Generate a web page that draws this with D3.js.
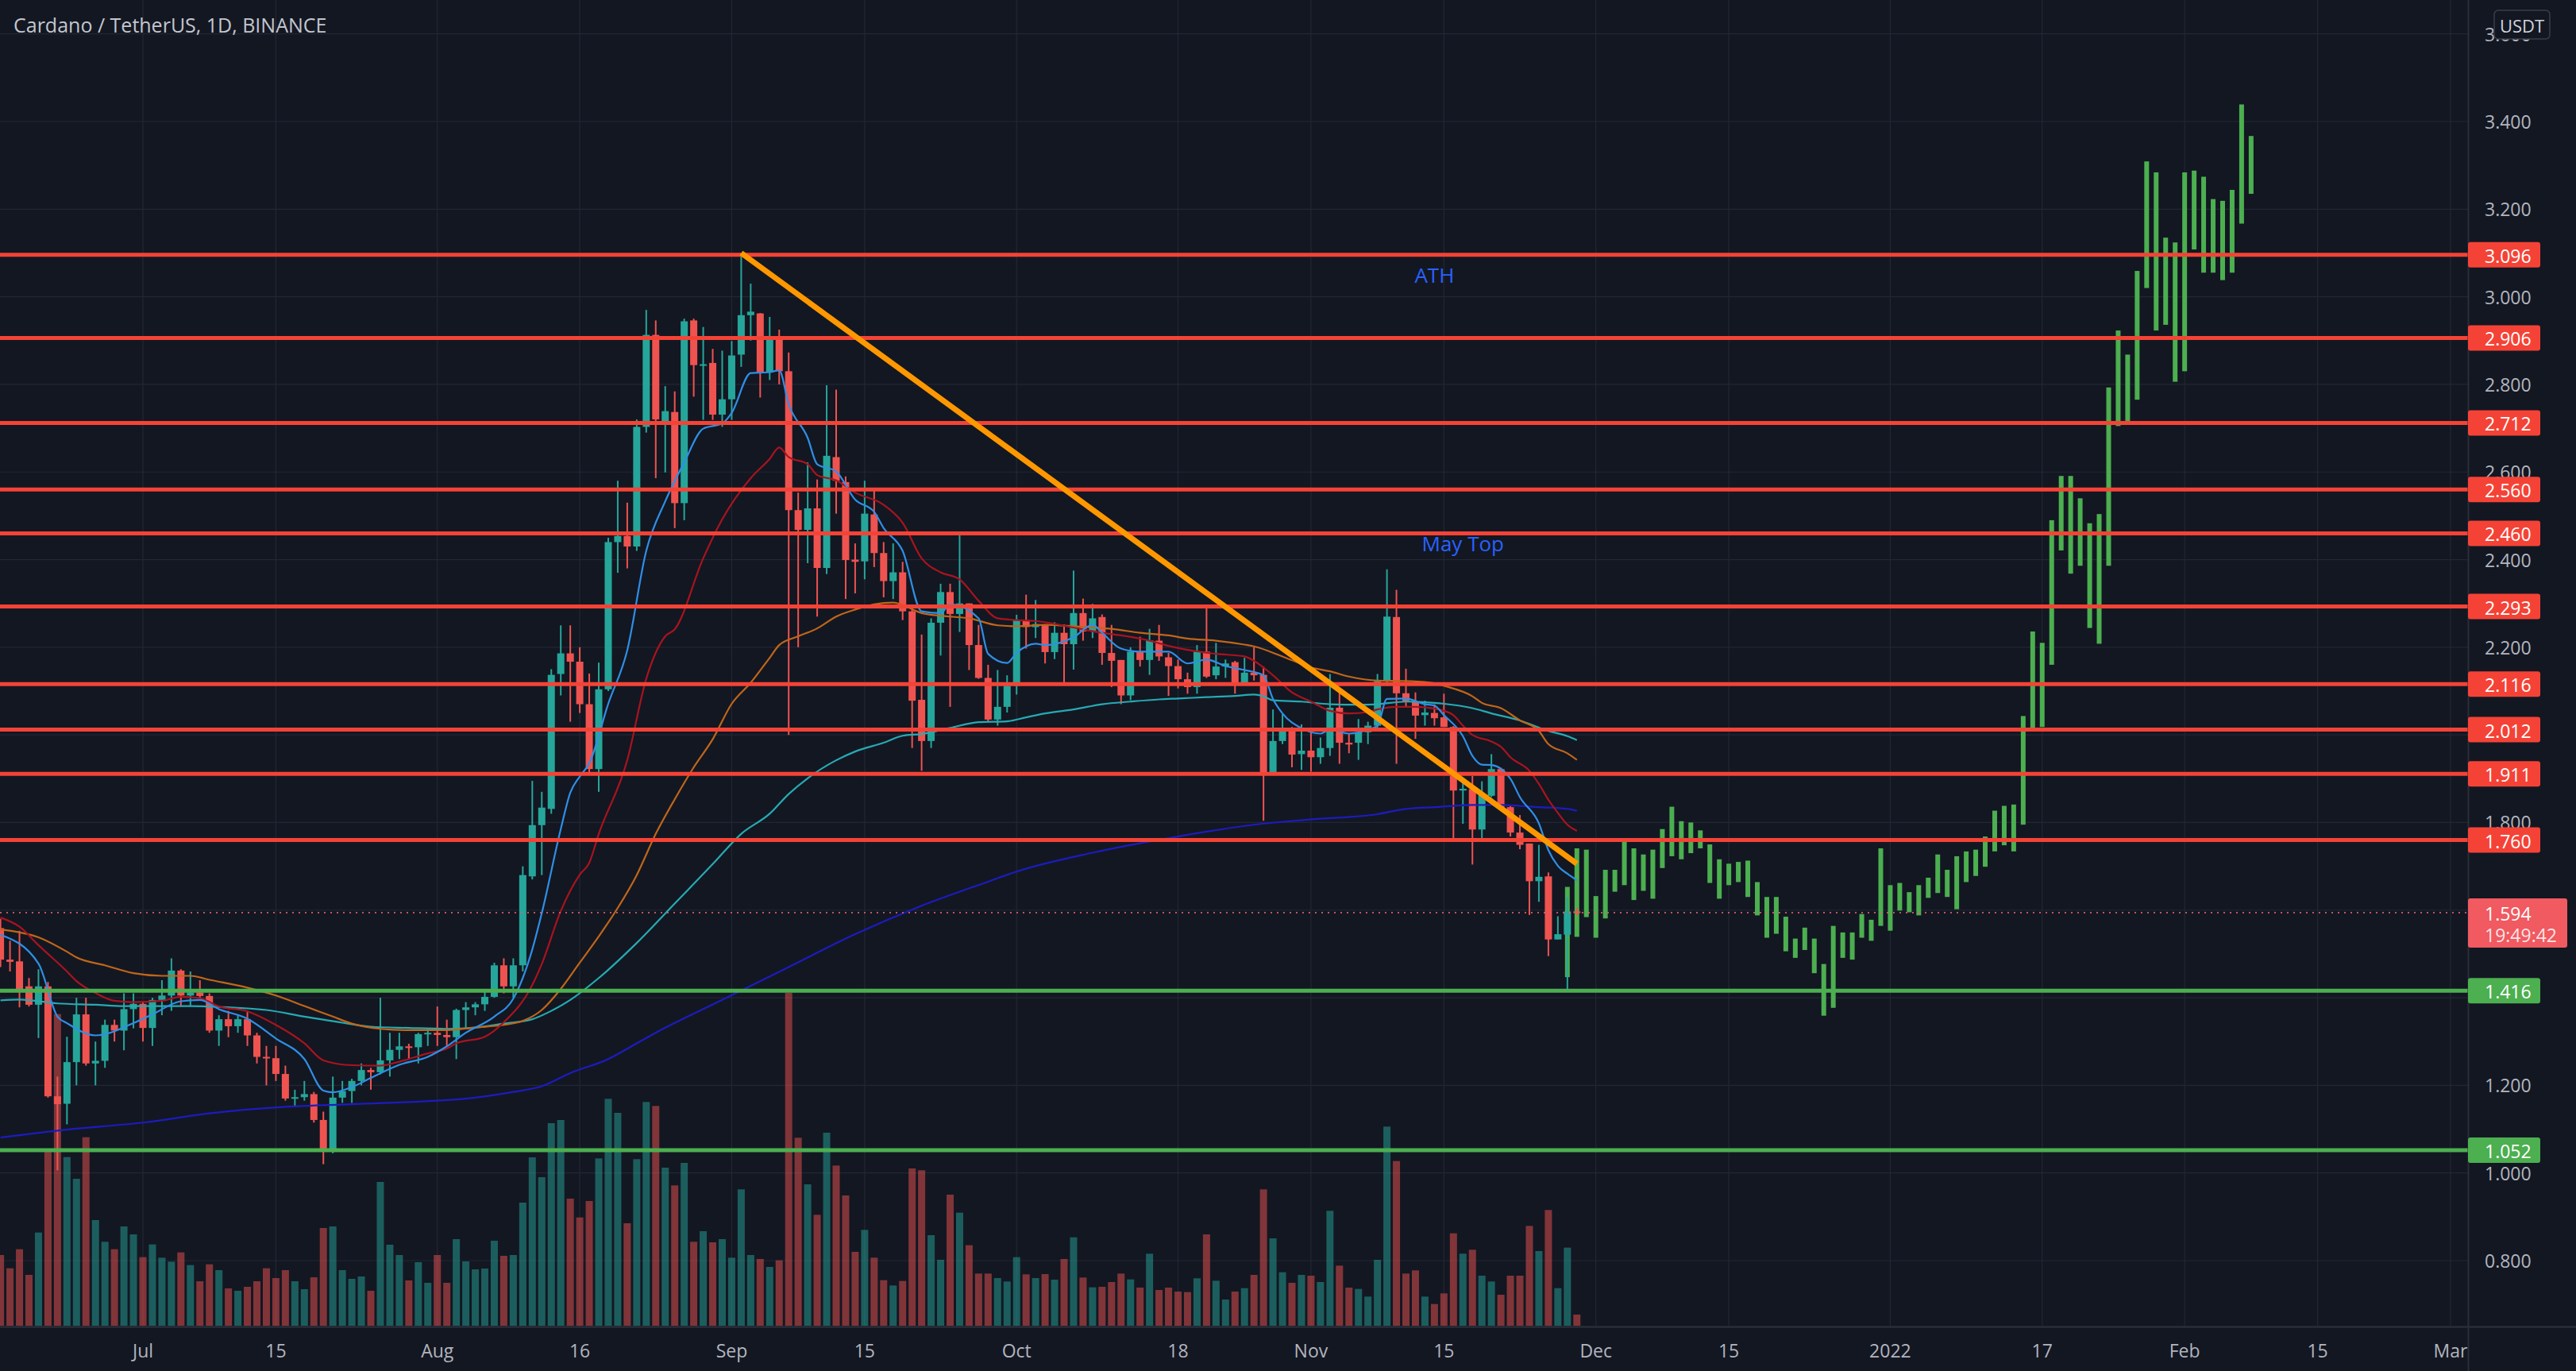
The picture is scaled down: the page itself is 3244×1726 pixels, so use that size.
<!DOCTYPE html>
<html><head><meta charset="utf-8">
<script src="https://cdn.jsdelivr.net/npm/d3@7"></script>
<style>
html,body{margin:0;padding:0;background:#131722;}
svg{display:block;}
text{font-family:"Open Sans","Noto Sans",sans-serif;}
</style></head>
<body>
<svg id="chart" width="3244" height="1726"></svg>
<script>
// ---------------- DATA ----------------
const chartTitle = "Cardano / TetherUS, 1D, BINANCE";
const quoteUnit = "USDT";

const candleDates = [
"2021-06-16","2021-06-17","2021-06-18","2021-06-19","2021-06-20","2021-06-21","2021-06-22","2021-06-23","2021-06-24","2021-06-25","2021-06-26","2021-06-27","2021-06-28","2021-06-29","2021-06-30",
"2021-07-01","2021-07-02","2021-07-03","2021-07-04","2021-07-05","2021-07-06","2021-07-07","2021-07-08","2021-07-09","2021-07-10","2021-07-11","2021-07-12","2021-07-13","2021-07-14","2021-07-15","2021-07-16","2021-07-17","2021-07-18","2021-07-19","2021-07-20","2021-07-21","2021-07-22","2021-07-23","2021-07-24","2021-07-25","2021-07-26","2021-07-27","2021-07-28","2021-07-29","2021-07-30","2021-07-31",
"2021-08-01","2021-08-02","2021-08-03","2021-08-04","2021-08-05","2021-08-06","2021-08-07","2021-08-08","2021-08-09","2021-08-10","2021-08-11","2021-08-12","2021-08-13","2021-08-14","2021-08-15","2021-08-16","2021-08-17","2021-08-18","2021-08-19","2021-08-20","2021-08-21","2021-08-22","2021-08-23","2021-08-24","2021-08-25","2021-08-26","2021-08-27","2021-08-28","2021-08-29","2021-08-30","2021-08-31",
"2021-09-01","2021-09-02","2021-09-03","2021-09-04","2021-09-05","2021-09-06","2021-09-07","2021-09-08","2021-09-09","2021-09-10","2021-09-11","2021-09-12","2021-09-13","2021-09-14","2021-09-15","2021-09-16","2021-09-17","2021-09-18","2021-09-19","2021-09-20","2021-09-21","2021-09-22","2021-09-23","2021-09-24","2021-09-25","2021-09-26","2021-09-27","2021-09-28","2021-09-29","2021-09-30",
"2021-10-01","2021-10-02","2021-10-03","2021-10-04","2021-10-05","2021-10-06","2021-10-07","2021-10-08","2021-10-09","2021-10-10","2021-10-11","2021-10-12","2021-10-13","2021-10-14","2021-10-15","2021-10-16","2021-10-17","2021-10-18","2021-10-19","2021-10-20","2021-10-21","2021-10-22","2021-10-23","2021-10-24","2021-10-25","2021-10-26","2021-10-27","2021-10-28","2021-10-29","2021-10-30","2021-10-31",
"2021-11-01","2021-11-02","2021-11-03","2021-11-04","2021-11-05","2021-11-06","2021-11-07","2021-11-08","2021-11-09","2021-11-10","2021-11-11","2021-11-12","2021-11-13","2021-11-14","2021-11-15","2021-11-16","2021-11-17","2021-11-18","2021-11-19","2021-11-20","2021-11-21","2021-11-22","2021-11-23","2021-11-24","2021-11-25","2021-11-26","2021-11-27","2021-11-28","2021-11-29"];

const openP = [
1.559,1.487,1.483,1.426,1.384,1.426,1.175,1.158,1.253,1.362,1.25,1.256,1.338,1.325,1.374,
1.386,1.331,1.395,1.405,1.462,1.405,1.412,1.404,1.325,1.351,1.335,1.351,1.314,1.265,1.262,1.226,1.170,1.173,1.180,1.121,1.054,1.172,1.187,1.21,1.235,1.23,1.257,1.281,1.289,1.287,1.317,
1.32,1.315,1.31,1.372,1.378,1.385,1.402,1.474,1.426,1.474,1.677,1.794,1.831,2.139,2.186,2.167,2.07,1.922,2.104,2.44,2.454,2.43,2.703,2.913,2.716,2.737,2.529,2.946,2.844,2.849,2.731,
2.766,2.868,2.958,2.962,2.828,2.909,2.83,2.513,2.468,2.517,2.381,2.634,2.577,2.40,2.396,2.503,2.415,2.351,2.371,2.282,2.08,1.986,2.256,2.326,2.276,2.30,2.205,2.13,2.035,2.064,
2.112,2.262,2.246,2.251,2.189,2.233,2.207,2.278,2.236,2.269,2.187,2.171,2.09,2.19,2.171,2.215,2.177,2.157,2.127,2.109,2.19,2.136,2.156,2.166,2.119,2.142,2.137,1.914,1.986,2.01,1.956,
1.964,1.949,1.97,2.062,1.982,1.982,2.006,2.021,2.123,2.269,2.095,2.076,2.045,2.05,2.04,2.018,1.873,1.876,1.784,1.861,1.922,1.835,1.777,1.752,1.666,1.677,1.533,1.544,1.597];

const highP = [
1.58,1.53,1.553,1.445,1.465,1.436,1.22,1.311,1.40,1.40,1.30,1.35,1.35,1.41,1.41,
1.39,1.40,1.44,1.49,1.465,1.46,1.44,1.41,1.36,1.37,1.36,1.37,1.32,1.29,1.29,1.245,1.19,1.21,1.185,1.14,1.22,1.21,1.215,1.25,1.24,1.40,1.32,1.32,1.295,1.32,1.33,
1.38,1.35,1.375,1.39,1.39,1.42,1.48,1.49,1.49,1.70,1.895,1.87,2.15,2.25,2.25,2.20,2.14,2.165,2.45,2.58,2.53,2.72,2.97,2.946,2.796,2.784,2.95,2.95,2.931,2.881,2.877,
2.899,3.10,3.03,2.963,2.954,2.925,2.873,2.553,2.622,2.583,2.798,2.788,2.59,2.437,2.58,2.557,2.44,2.437,2.395,2.29,2.229,2.266,2.345,2.345,2.456,2.30,2.251,2.16,2.148,2.136,
2.274,2.32,2.308,2.251,2.257,2.252,2.375,2.311,2.299,2.275,2.251,2.171,2.20,2.224,2.242,2.251,2.187,2.172,2.142,2.205,2.293,2.21,2.172,2.169,2.176,2.20,2.156,2.058,2.047,2.018,2.024,
2.008,1.994,2.139,2.103,2.003,2.036,2.03,2.139,2.378,2.331,2.151,2.097,2.078,2.07,2.094,2.02,1.895,1.906,1.894,1.956,1.925,1.84,1.817,1.752,1.749,1.686,1.586,1.63,1.605];

const lowP = [
1.47,1.46,1.378,1.38,1.308,1.172,1.006,1.111,1.20,1.245,1.20,1.24,1.30,1.28,1.33,
1.30,1.29,1.36,1.37,1.38,1.38,1.40,1.32,1.29,1.31,1.32,1.29,1.25,1.20,1.21,1.165,1.15,1.165,1.115,1.02,1.045,1.16,1.16,1.20,1.19,1.225,1.22,1.26,1.26,1.25,1.29,
1.29,1.29,1.26,1.33,1.36,1.37,1.40,1.41,1.40,1.46,1.67,1.68,1.82,2.09,2.03,2.05,1.915,1.87,2.10,2.37,2.38,2.42,2.69,2.586,2.599,2.472,2.49,2.772,2.719,2.719,2.703,
2.719,2.84,2.90,2.77,2.81,2.80,2.00,2.20,2.392,2.27,2.367,2.505,2.31,2.323,2.355,2.383,2.314,2.31,2.262,1.97,1.918,1.97,2.181,2.064,2.235,2.148,2.128,2.03,2.021,2.051,
2.092,2.197,2.221,2.163,2.173,2.118,2.149,2.215,2.221,2.16,2.109,2.07,2.079,2.156,2.137,2.169,2.089,2.106,2.094,2.094,2.13,2.127,2.13,2.094,2.118,2.124,1.804,1.913,1.979,1.926,1.92,
1.916,1.934,1.952,1.934,1.958,1.943,1.979,2.009,2.112,1.934,2.062,1.991,2.021,2.021,2.018,1.764,1.797,1.704,1.764,1.858,1.83,1.768,1.739,1.589,1.619,1.495,1.533,1.416,1.588];

const closeP = [
1.487,1.482,1.416,1.384,1.426,1.175,1.157,1.253,1.362,1.25,1.256,1.338,1.325,1.374,1.386,
1.331,1.395,1.405,1.462,1.405,1.412,1.404,1.325,1.351,1.335,1.351,1.314,1.265,1.262,1.226,1.170,1.173,1.180,1.121,1.054,1.172,1.187,1.21,1.235,1.23,1.257,1.281,1.289,1.287,1.317,1.32,
1.315,1.31,1.372,1.378,1.385,1.402,1.474,1.426,1.474,1.68,1.794,1.834,2.137,2.186,2.167,2.07,1.922,2.104,2.44,2.454,2.43,2.703,2.913,2.72,2.739,2.529,2.944,2.844,2.846,2.731,2.766,
2.866,2.958,2.966,2.828,2.909,2.83,2.513,2.468,2.517,2.381,2.637,2.58,2.399,2.395,2.505,2.415,2.351,2.371,2.282,2.078,1.986,2.256,2.326,2.276,2.30,2.205,2.13,2.035,2.064,2.112,
2.262,2.246,2.253,2.189,2.233,2.207,2.278,2.236,2.266,2.187,2.169,2.09,2.19,2.171,2.216,2.179,2.157,2.127,2.109,2.19,2.133,2.156,2.163,2.119,2.142,2.136,1.909,1.986,2.01,1.955,1.964,
1.949,1.97,2.062,1.982,1.978,2.006,2.021,2.123,2.27,2.095,2.076,2.044,2.051,2.038,2.018,1.873,1.877,1.784,1.864,1.922,1.834,1.777,1.749,1.666,1.676,1.533,1.545,1.597,1.594];

// volume, millions of ADA
const volumeM = [
267,217,289,192,352,659,1177,637,555,712,399,317,289,375,345,
259,307,257,242,277,229,168,232,210,141,132,147,168,217,180,210,168,138,183,369,375,210,177,186,132,543,306,267,171,240,162,
267,162,327,243,213,216,321,264,267,465,636,561,765,777,480,409,471,632,857,804,387,629,845,830,597,530,615,317,357,315,327,
257,515,267,252,222,247,1257,710,534,419,729,605,492,279,362,257,172,152,169,594,587,342,249,495,427,304,197,197,180,167,
259,194,180,195,174,252,334,182,145,147,165,197,175,144,272,135,144,129,127,179,345,170,99,129,142,192,515,330,202,162,192,
189,165,434,227,144,139,110,249,752,622,197,209,110,82,122,349,272,287,189,167,117,189,189,377,282,437,142,295,42];

// projected path (bars pattern), high / low per day
const projDates = [
"2021-11-28","2021-11-29","2021-11-30",
"2021-12-01","2021-12-02","2021-12-03","2021-12-04","2021-12-05","2021-12-06","2021-12-07","2021-12-08","2021-12-09","2021-12-10","2021-12-11","2021-12-12","2021-12-13","2021-12-14","2021-12-15","2021-12-16","2021-12-17","2021-12-18","2021-12-19","2021-12-20","2021-12-21","2021-12-22","2021-12-23","2021-12-24","2021-12-25","2021-12-26","2021-12-27","2021-12-28","2021-12-29","2021-12-30","2021-12-31",
"2022-01-01","2022-01-02","2022-01-03","2022-01-04","2022-01-05","2022-01-06","2022-01-07","2022-01-08","2022-01-09","2022-01-10","2022-01-11","2022-01-12","2022-01-13","2022-01-14","2022-01-15","2022-01-16","2022-01-17","2022-01-18","2022-01-19","2022-01-20","2022-01-21","2022-01-22","2022-01-23","2022-01-24","2022-01-25","2022-01-26","2022-01-27","2022-01-28","2022-01-29","2022-01-30","2022-01-31",
"2022-02-01","2022-02-02","2022-02-03","2022-02-04","2022-02-05","2022-02-06","2022-02-07","2022-02-08"];
const projHigh = [
1.653,1.741,1.738,
1.632,1.692,1.692,1.762,1.741,1.727,1.738,1.785,1.836,1.803,1.800,1.782,1.750,1.716,1.706,1.710,1.713,1.664,1.630,1.630,1.585,1.535,1.560,1.535,1.477,1.564,1.549,1.549,1.591,1.578,1.741,
1.657,1.662,1.641,1.657,1.674,1.727,1.692,1.723,1.734,1.738,1.768,1.827,1.838,1.841,2.043,2.236,2.210,2.490,2.591,2.591,2.540,2.483,2.504,2.793,2.923,2.868,3.059,3.309,3.284,3.135,3.124,
3.284,3.288,3.274,3.223,3.219,3.244,3.439,3.367];
const projLow = [
1.447,1.539,1.584,
1.537,1.581,1.642,1.657,1.623,1.644,1.626,1.696,1.723,1.716,1.730,1.741,1.662,1.626,1.657,1.664,1.630,1.588,1.537,1.546,1.506,1.491,1.509,1.456,1.359,1.377,1.491,1.487,1.537,1.530,1.564,
1.553,1.599,1.595,1.588,1.628,1.639,1.630,1.602,1.664,1.678,1.699,1.734,1.748,1.734,1.795,2.011,2.018,2.160,2.421,2.368,2.386,2.244,2.208,2.386,2.705,2.712,2.765,3.020,2.923,2.936,2.806,
2.830,3.108,3.055,3.055,3.038,3.055,3.167,3.235];

// moving averages: [date, value]
const maFast = [["2021-06-16",1.544],["2021-06-20",1.478],["2021-06-22",1.357],["2021-06-23",1.342],["2021-06-26",1.314],["2021-06-30",1.342],["2021-07-02",1.362],["2021-07-05",1.392],["2021-07-07",1.395],["2021-07-09",1.374],["2021-07-12",1.352],["2021-07-15",1.307],["2021-07-18",1.260],["2021-07-20",1.188],["2021-07-21",1.184],["2021-07-23",1.196],["2021-07-25",1.217],["2021-07-28",1.247],["2021-07-31",1.265],["2021-08-02",1.289],["2021-08-04",1.320],["2021-08-07",1.357],["2021-08-09",1.398],["2021-08-11",1.510],["2021-08-12",1.593],["2021-08-14",1.785],["2021-08-15",1.868],["2021-08-16",1.905],["2021-08-17",1.935],["2021-08-19",2.071],["2021-08-21",2.193],["2021-08-23",2.420],["2021-08-25",2.533],["2021-08-27",2.622],["2021-08-29",2.699],["2021-08-31",2.711],["2021-09-01",2.735],["2021-09-03",2.826],["2021-09-05",2.828],["2021-09-06",2.832],["2021-09-07",2.755],["2021-09-09",2.678],["2021-09-10",2.618],["2021-09-12",2.601],["2021-09-14",2.537],["2021-09-16",2.509],["2021-09-17",2.472],["2021-09-19",2.420],["2021-09-21",2.282],["2021-09-23",2.278],["2021-09-24",2.298],["2021-09-27",2.266],["2021-09-28",2.185],["2021-09-30",2.164],["2021-10-01",2.187],["2021-10-03",2.208],["2021-10-04",2.205],["2021-10-07",2.223],["2021-10-09",2.251],["2021-10-10",2.233],["2021-10-12",2.197],["2021-10-14",2.190],["2021-10-17",2.190],["2021-10-19",2.163],["2021-10-21",2.172],["2021-10-23",2.157],["2021-10-25",2.148],["2021-10-27",2.136],["2021-10-28",2.082],["2021-10-29",2.049],["2021-10-31",2.015],["2021-11-02",2.003],["2021-11-03",2.012],["2021-11-05",2.003],["2021-11-07",2.012],["2021-11-08",2.021],["2021-11-09",2.082],["2021-11-11",2.083],["2021-11-13",2.070],["2021-11-14",2.067],["2021-11-15",2.045],["2021-11-17",1.997],["2021-11-18",1.952],["2021-11-19",1.932],["2021-11-20",1.931],["2021-11-22",1.900],["2021-11-23",1.858],["2021-11-25",1.798],["2021-11-26",1.737],["2021-11-27",1.701],["2021-11-28",1.683],["2021-11-29",1.668]];

const maMid = [["2021-06-16",1.583],["2021-06-18",1.562],["2021-06-20",1.520],["2021-06-23",1.460],["2021-06-24",1.438],["2021-06-26",1.411],["2021-06-28",1.393],["2021-06-30",1.390],["2021-07-03",1.393],["2021-07-05",1.402],["2021-07-07",1.399],["2021-07-09",1.380],["2021-07-12",1.369],["2021-07-15",1.338],["2021-07-18",1.296],["2021-07-20",1.257],["2021-07-23",1.246],["2021-07-26",1.245],["2021-07-28",1.254],["2021-07-31",1.273],["2021-08-02",1.284],["2021-08-03",1.296],["2021-08-06",1.311],["2021-08-08",1.344],["2021-08-11",1.429],["2021-08-12",1.477],["2021-08-14",1.598],["2021-08-16",1.681],["2021-08-17",1.708],["2021-08-18",1.774],["2021-08-21",1.942],["2021-08-23",2.128],["2021-08-25",2.225],["2021-08-26",2.241],["2021-08-29",2.403],["2021-08-31",2.492],["2021-09-03",2.586],["2021-09-05",2.630],["2021-09-06",2.656],["2021-09-07",2.634],["2021-09-09",2.618],["2021-09-10",2.593],["2021-09-12",2.581],["2021-09-14",2.553],["2021-09-17",2.525],["2021-09-19",2.484],["2021-09-21",2.403],["2021-09-23",2.371],["2021-09-25",2.355],["2021-09-27",2.306],["2021-09-29",2.266],["2021-10-01",2.262],["2021-10-03",2.260],["2021-10-04",2.257],["2021-10-07",2.245],["2021-10-10",2.233],["2021-10-12",2.227],["2021-10-15",2.215],["2021-10-17",2.203],["2021-10-19",2.194],["2021-10-22",2.185],["2021-10-25",2.179],["2021-10-26",2.169],["2021-10-28",2.136],["2021-10-30",2.097],["2021-11-01",2.076],["2021-11-03",2.055],["2021-11-05",2.049],["2021-11-07",2.052],["2021-11-08",2.058],["2021-11-10",2.064],["2021-11-12",2.064],["2021-11-14",2.060],["2021-11-15",2.055],["2021-11-16",2.045],["2021-11-17",2.021],["2021-11-18",2.000],["2021-11-20",1.985],["2021-11-21",1.973],["2021-11-22",1.949],["2021-11-24",1.918],["2021-11-25",1.888],["2021-11-26",1.852],["2021-11-27",1.822],["2021-11-28",1.795],["2021-11-29",1.781]];

const ma50 = [["2021-06-16",1.556],["2021-06-20",1.538],["2021-06-23",1.505],["2021-06-24",1.492],["2021-06-27",1.474],["2021-06-30",1.456],["2021-07-03",1.450],["2021-07-06",1.450],["2021-07-08",1.441],["2021-07-12",1.423],["2021-07-15",1.405],["2021-07-18",1.381],["2021-07-21",1.357],["2021-07-23",1.341],["2021-07-26",1.329],["2021-07-29",1.326],["2021-08-02",1.326],["2021-08-05",1.332],["2021-08-08",1.338],["2021-08-10",1.347],["2021-08-12",1.372],["2021-08-14",1.420],["2021-08-16",1.480],["2021-08-18",1.540],["2021-08-20",1.605],["2021-08-22",1.680],["2021-08-24",1.774],["2021-08-26",1.853],["2021-08-28",1.926],["2021-08-30",1.990],["2021-09-01",2.071],["2021-09-03",2.119],["2021-09-05",2.176],["2021-09-06",2.205],["2021-09-08",2.225],["2021-09-10",2.243],["2021-09-12",2.270],["2021-09-14",2.286],["2021-09-16",2.298],["2021-09-18",2.302],["2021-09-21",2.278],["2021-09-24",2.270],["2021-09-26",2.266],["2021-09-29",2.250],["2021-10-01",2.248],["2021-10-04",2.251],["2021-10-07",2.248],["2021-10-11",2.242],["2021-10-14",2.233],["2021-10-17",2.227],["2021-10-19",2.220],["2021-10-22",2.215],["2021-10-25",2.206],["2021-10-26",2.202],["2021-10-29",2.179],["2021-11-01",2.154],["2021-11-03",2.145],["2021-11-05",2.133],["2021-11-08",2.124],["2021-11-11",2.123],["2021-11-14",2.118],["2021-11-15",2.112],["2021-11-18",2.088],["2021-11-19",2.073],["2021-11-21",2.061],["2021-11-23",2.033],["2021-11-25",2.009],["2021-11-26",1.979],["2021-11-28",1.958],["2021-11-29",1.943]];

const ma100 = [["2021-06-16",1.394],["2021-06-18",1.396],["2021-06-22",1.387],["2021-06-26",1.384],["2021-06-29",1.381],["2021-07-03",1.381],["2021-07-06",1.381],["2021-07-10",1.378],["2021-07-14",1.372],["2021-07-18",1.357],["2021-07-22",1.343],["2021-07-25",1.334],["2021-07-29",1.331],["2021-08-02",1.329],["2021-08-05",1.332],["2021-08-08",1.341],["2021-08-11",1.351],["2021-08-13",1.370],["2021-08-15",1.395],["2021-08-18",1.445],["2021-08-22",1.525],["2021-08-26",1.615],["2021-08-30",1.705],["2021-09-02",1.774],["2021-09-05",1.820],["2021-09-07",1.865],["2021-09-09",1.901],["2021-09-12",1.942],["2021-09-14",1.962],["2021-09-17",1.982],["2021-09-19",1.998],["2021-09-21",2.002],["2021-09-24",2.016],["2021-09-27",2.029],["2021-09-30",2.031],["2021-10-02",2.040],["2021-10-04",2.049],["2021-10-07",2.058],["2021-10-10",2.070],["2021-10-13",2.076],["2021-10-16",2.081],["2021-10-18",2.083],["2021-10-21",2.086],["2021-10-24",2.089],["2021-10-26",2.092],["2021-10-27",2.088],["2021-10-28",2.079],["2021-10-31",2.076],["2021-11-03",2.070],["2021-11-06",2.069],["2021-11-08",2.070],["2021-11-11",2.076],["2021-11-14",2.073],["2021-11-15",2.071],["2021-11-18",2.061],["2021-11-20",2.049],["2021-11-23",2.033],["2021-11-26",2.009],["2021-11-28",1.997],["2021-11-29",1.988]];

const ma200 = [["2021-06-16",1.081],["2021-06-23",1.099],["2021-07-01",1.115],["2021-07-08",1.136],["2021-07-16",1.151],["2021-07-23",1.157],["2021-07-30",1.163],["2021-08-05",1.172],["2021-08-09",1.185],["2021-08-12",1.198],["2021-08-15",1.228],["2021-08-19",1.260],["2021-08-22",1.296],["2021-08-24",1.320],["2021-08-31",1.395],["2021-09-07",1.470],["2021-09-14",1.545],["2021-09-21",1.610],["2021-09-28",1.665],["2021-10-01",1.688],["2021-10-09",1.731],["2021-10-18",1.768],["2021-10-26",1.795],["2021-11-01",1.807],["2021-11-08",1.819],["2021-11-11",1.831],["2021-11-14",1.835],["2021-11-18",1.840],["2021-11-21",1.840],["2021-11-25",1.835],["2021-11-28",1.831],["2021-11-29",1.827]];

const resistanceLevels = [3.096, 2.906, 2.712, 2.560, 2.460, 2.293, 2.116, 2.012, 1.911, 1.760];
const supportLevels = [1.416, 1.052];
const lastPrice = 1.594;
const lastPriceTimer = "19:49:42";

const trendStart = ["2021-09-02", 3.100];
const trendEnd = ["2021-11-29", 1.706];

const noteTexts = ["ATH", "May Top"];
const noteDates = ["2021-11-14", "2021-11-17"];
const notePrices = [3.05, 2.438];

const priceTicks = [0.8, 1.0, 1.2, 1.4, 1.6, 1.8, 2.0, 2.2, 2.4, 2.6, 2.8, 3.0, 3.2, 3.4, 3.6];
const timeTickDates = ["2021-07-01","2021-07-15","2021-08-01","2021-08-16","2021-09-01","2021-09-15","2021-10-01","2021-10-18","2021-11-01","2021-11-15","2021-12-01","2021-12-15","2022-01-01","2022-01-17","2022-02-01","2022-02-15","2022-03-01"];
const timeTickLabels = ["Jul","15","Aug","16","Sep","15","Oct","18","Nov","15","Dec","15","2022","17","Feb","15","Mar"];

// ---------------- STYLE / LAYOUT ----------------
const W = 3244, H = 1726, plotR = 3108, plotB = 1670;
const C = {
  bg:"#131722", grid:"#232734", border:"#2a2e39", axisText:"#b2b5be",
  up:"#26a69a", down:"#ef5350", volUp:"rgba(38,166,154,0.5)", volDown:"rgba(239,83,80,0.5)",
  res:"#f44336", sup:"#4caf50", proj:"#4caf50", trend:"#ff9800", note:"#2962ff",
  maFast:"#2f8fe6", maMid:"#a8141f", ma50:"#c0661a", ma100:"#26aab3", ma200:"#1c1cbf"
};
const parse = d3.utcParse("%Y-%m-%d");

const x = d3.scaleUtc().domain([parse("2021-07-01"), parse("2022-03-01")]).range([180, 3086]);
const y = d3.scaleLinear().domain([0.8, 3.4]).range([1587, 153]);
const vy = d3.scaleLinear().domain([0, 1500]).range([1669, 1169]);

const svg = d3.select("#chart");
svg.append("rect").attr("width", W).attr("height", H).attr("fill", C.bg);
svg.append("defs").append("clipPath").attr("id","plotclip")
  .append("rect").attr("x",0).attr("y",0).attr("width",plotR).attr("height",plotB);

const plot = svg.append("g").attr("clip-path","url(#plotclip)");

// grid
plot.append("g").selectAll("line").data(timeTickDates).join("line")
  .attr("x1", d=>x(parse(d))).attr("x2", d=>x(parse(d)))
  .attr("y1",0).attr("y2",plotB).attr("stroke",C.grid).attr("stroke-width",1.2);
plot.append("g").selectAll("line").data(priceTicks).join("line")
  .attr("x1",0).attr("x2",plotR).attr("y1",d=>y(d)).attr("y2",d=>y(d))
  .attr("stroke",C.grid).attr("stroke-width",1.2);

const candles = candleDates.map((d,i)=>({date:parse(d),o:openP[i],h:highP[i],l:lowP[i],c:closeP[i],v:volumeM[i]}));
const isUp = d => d.c >= d.o;
const bodyW = 9;

// volume
plot.append("g").selectAll("rect").data(candles).join("rect")
  .attr("x", d=>x(d.date)-bodyW/2).attr("width", bodyW)
  .attr("y", d=>vy(d.v)).attr("height", d=>vy(0)-vy(d.v))
  .attr("fill", d=> isUp(d)?C.volUp:C.volDown);

// projected bars pattern
const proj = projDates.map((d,i)=>({date:parse(d),h:projHigh[i],l:projLow[i]}));
plot.append("g").selectAll("rect").data(proj).join("rect")
  .attr("x", d=>x(d.date)-3).attr("width",6)
  .attr("y", d=>y(d.h)).attr("height", d=>y(d.l)-y(d.h))
  .attr("fill", C.proj);

// candles
const cg = plot.append("g");
cg.selectAll("line").data(candles).join("line")
  .attr("x1", d=>x(d.date)).attr("x2", d=>x(d.date))
  .attr("y1", d=>y(d.h)).attr("y2", d=>y(d.l))
  .attr("stroke", d=>isUp(d)?C.up:C.down).attr("stroke-width",2);
cg.selectAll("rect").data(candles).join("rect")
  .attr("x", d=>x(d.date)-bodyW/2).attr("width", bodyW)
  .attr("y", d=>y(Math.max(d.o,d.c)))
  .attr("height", d=>Math.max(2, Math.abs(y(d.o)-y(d.c))))
  .attr("fill", d=>isUp(d)?C.up:C.down);

// moving averages
const maLine = d3.line().x(d=>x(parse(d[0]))).y(d=>y(d[1])).curve(d3.curveMonotoneX);
[[ma200,C.ma200],[ma100,C.ma100],[ma50,C.ma50],[maMid,C.maMid],[maFast,C.maFast]].forEach(([data,col])=>{
  plot.append("path").datum(data).attr("d", maLine).attr("fill","none")
    .attr("stroke", col).attr("stroke-width", 2.2).attr("stroke-linejoin","round");
});

// horizontal levels
plot.append("g").selectAll("line").data(resistanceLevels).join("line")
  .attr("x1",0).attr("x2",plotR).attr("y1",d=>y(d)).attr("y2",d=>y(d))
  .attr("stroke",C.res).attr("stroke-width",5);
plot.append("g").selectAll("line").data(supportLevels).join("line")
  .attr("x1",0).attr("x2",plotR).attr("y1",d=>y(d)).attr("y2",d=>y(d))
  .attr("stroke",C.sup).attr("stroke-width",5);

// last price dotted line
plot.append("line").attr("x1",0).attr("x2",plotR).attr("y1",y(lastPrice)).attr("y2",y(lastPrice))
  .attr("stroke","#e0606a").attr("stroke-width",2).attr("stroke-dasharray","2 6").attr("opacity",0.85);

// trendline
plot.append("line")
  .attr("x1", x(parse(trendStart[0]))).attr("y1", y(trendStart[1]))
  .attr("x2", x(parse(trendEnd[0]))).attr("y2", y(trendEnd[1]))
  .attr("stroke", C.trend).attr("stroke-width", 7);

// notes
plot.append("g").selectAll("text").data(noteTexts).join("text")
  .attr("x",(d,i)=>x(parse(noteDates[i]))).attr("y",(d,i)=>y(notePrices[i]))
  .attr("text-anchor","middle").attr("dominant-baseline","central")
  .attr("fill",C.note).attr("font-size",26).text(d=>d);

// title
svg.append("text").attr("x",17).attr("y",41).attr("fill","#c3c6ce")
  .attr("font-size",25).text(chartTitle);

// ---------------- AXES ----------------
svg.append("rect").attr("x",plotR).attr("y",0).attr("width",W-plotR).attr("height",H).attr("fill",C.bg);
svg.append("rect").attr("x",0).attr("y",plotB).attr("width",plotR).attr("height",H-plotB).attr("fill",C.bg);
svg.append("line").attr("x1",plotR+0.5).attr("x2",plotR+0.5).attr("y1",0).attr("y2",H).attr("stroke",C.border).attr("stroke-width",2);
svg.append("line").attr("x1",0).attr("x2",W).attr("y1",plotB+0.5).attr("y2",plotB+0.5).attr("stroke",C.border).attr("stroke-width",2.5);

// price tick labels (labels fully covered by a price badge are hidden, as on the axis)
const badgePrices = resistanceLevels.concat(supportLevels);
const hiddenTick = p => badgePrices.some(b => Math.abs(y(b)-y(p)) < 14) ||
  (y(p) > y(lastPrice)-18 && y(p) < y(lastPrice)+44);
svg.append("g").selectAll("text").data(priceTicks.filter(p=>!hiddenTick(p))).join("text")
  .attr("x",3129).attr("y",d=>y(d)).attr("dominant-baseline","central")
  .attr("fill",C.axisText).attr("font-size",23).text(d=>d3.format(".3f")(d));

// time tick labels
svg.append("g").selectAll("text").data(timeTickDates).join("text")
  .attr("x",d=>x(parse(d))).attr("y",1700).attr("text-anchor","middle").attr("dominant-baseline","central")
  .attr("fill",C.axisText).attr("font-size",23).text((d,i)=>timeTickLabels[i]);

// level badges
function badge(p, col){
  const g = svg.append("g");
  g.append("rect").attr("x",plotR).attr("y",y(p)-16).attr("width",91).attr("height",32).attr("rx",3).attr("fill",col);
  g.append("text").attr("x",3129).attr("y",y(p)+1).attr("dominant-baseline","central")
    .attr("fill","#ffffff").attr("font-size",23).text(d3.format(".3f")(p));
}
resistanceLevels.forEach(p=>badge(p,C.res));
supportLevels.forEach(p=>badge(p,C.sup));

// last price badge
const lp = svg.append("g");
lp.append("rect").attr("x",plotR).attr("y",y(lastPrice)-18).attr("width",125).attr("height",62).attr("rx",3).attr("fill","#f05a60");
lp.append("text").attr("x",3129).attr("y",y(lastPrice)+1).attr("dominant-baseline","central")
  .attr("fill","#ffffff").attr("font-size",23).text(d3.format(".3f")(lastPrice));
lp.append("text").attr("x",3129).attr("y",y(lastPrice)+28).attr("dominant-baseline","central")
  .attr("fill","rgba(255,255,255,0.85)").attr("font-size",23).text(lastPriceTimer);

// unit box
svg.append("rect").attr("x",3141).attr("y",13).attr("width",70).attr("height",36).attr("rx",5)
  .attr("fill",C.bg).attr("stroke","#3a3e4a").attr("stroke-width",1.5);
svg.append("text").attr("x",3176).attr("y",32).attr("text-anchor","middle").attr("dominant-baseline","central")
  .attr("fill","#d1d4dc").attr("font-size",22).text(quoteUnit);
</script>
</body></html>
